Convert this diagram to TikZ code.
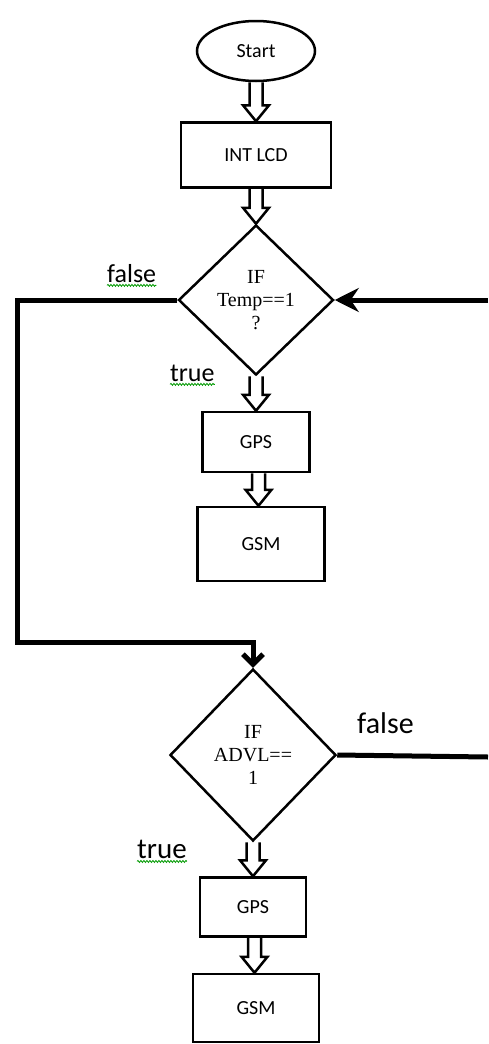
\documentclass[tikz,border=0pt]{standalone}
\usepackage{fontspec}
\setmainfont{Carlito}
\newfontfamily\decfont{Liberation Serif}
\usetikzlibrary{shapes.geometric,positioning,calc,arrows.meta,decorations.pathmorphing}

\begin{document}
\begin{tikzpicture}[x=1pt,y=-1pt,on grid,
    every node/.style={font=\fontsize{20}{23}\selectfont},
    box/.style={draw,line width=2.5pt,rectangle,inner sep=0pt},
    dec/.style={draw,line width=2.5pt,diamond,inner sep=0pt,align=center,
      font=\decfont\fontsize{20}{23}\selectfont},
    lbl/.style={inner sep=0pt,anchor=base west,font=\fontsize{26}{30}\selectfont},
    flow/.style={line width=5pt},
    hollow/.style={line width=2.5pt,to path={
      let \p1=(\tikztostart.south), \p2=(\tikztotarget.north),
      \n1={0.5*\x1+0.5*\x2} in
      (\n1-6.5pt,\y1) -- (\n1-6.5pt,\y2+16pt) -- (\n1-13pt,\y2+16pt)
      -- (\n1,\y2) -- (\n1+13pt,\y2+16pt) -- (\n1+6.5pt,\y2+16pt)
      -- (\n1+6.5pt,\y1)}},
    squiggle/.style={draw=green!60!black,line width=0.8pt,decorate,
      decoration={snake,amplitude=1pt,segment length=3pt}}]
    \useasboundingbox (0,0) rectangle (488,1044);
    \node[draw,ellipse,line width=2.5pt,minimum width=118pt,minimum height=60pt] (start) at (256,51) {Start};
    \node[box,minimum width=150pt,minimum height=65pt] (lcd) [below = 104pt of start] {INT LCD};
    \node[dec,minimum width=155pt,minimum height=150pt] (dec1) [below = 145pt of lcd] {IF\\Temp==1\\?};
    \node[box,minimum width=107pt,minimum height=60pt] (gps1) [below = 142pt of dec1] {GPS};
    \node[box,minimum width=127pt,minimum height=74pt] (gsm1) [below right = 102pt and 5pt of gps1] {GSM};
    \node[dec,minimum width=166pt,minimum height=172pt] (dec2) [below left = 211pt and 8pt of gsm1] {IF\\ADVL==\\1};
    \node[box,minimum width=106pt,minimum height=59pt] (gps2) [below = 152pt of dec2] {GPS};
    \node[box,minimum width=126pt,minimum height=68pt] (gsm2) [below right = 101pt and 3pt of gps2] {GSM};
    % branch labels
    \node[lbl] (fal1) at (107,282) {false};
    \node[lbl] (tru1) at (170,381) {true};
    \node[lbl,font=\fontsize{30}{34}\selectfont] (fal2) at (357,733) {false};
    \node[lbl,font=\fontsize{29}{33}\selectfont] (tru2) at (137,858) {true};
    \draw[squiggle] ([yshift=-3pt]fal1.south west) -- ([yshift=-3pt]fal1.south east);
    \draw[squiggle] ([yshift=-3pt]tru1.south west) -- ([yshift=-3pt]tru1.south east);
    \draw[squiggle] ([yshift=-3pt]tru2.south west) -- ([yshift=-3pt]tru2.south east);
    % hollow arrows
    \draw[hollow] (start) to (lcd);
    \draw[hollow] (lcd) to (dec1);
    \draw[hollow] (dec1) to (gps1);
    \draw[hollow] (gps1) to (gsm1);
    \draw[hollow] (dec2) to (gps2);
    \draw[hollow] (gps2) to (gsm2);
    % loop lines
    \coordinate (fl) at (17,642);
    \coordinate (r1) at (488,300);
    \coordinate (r2) at (488,757);
    \draw[flow,-{Straight Barb[length=10pt,width=20pt]}] (dec1.west) -| (fl) -| (dec2.north);
    \draw[flow,-{Stealth[length=24pt,width=24pt,inset=8pt]}] (r1) -- (dec1.east);
    \draw[flow] (dec2.east) -- (r2);
\end{tikzpicture}
\end{document}
